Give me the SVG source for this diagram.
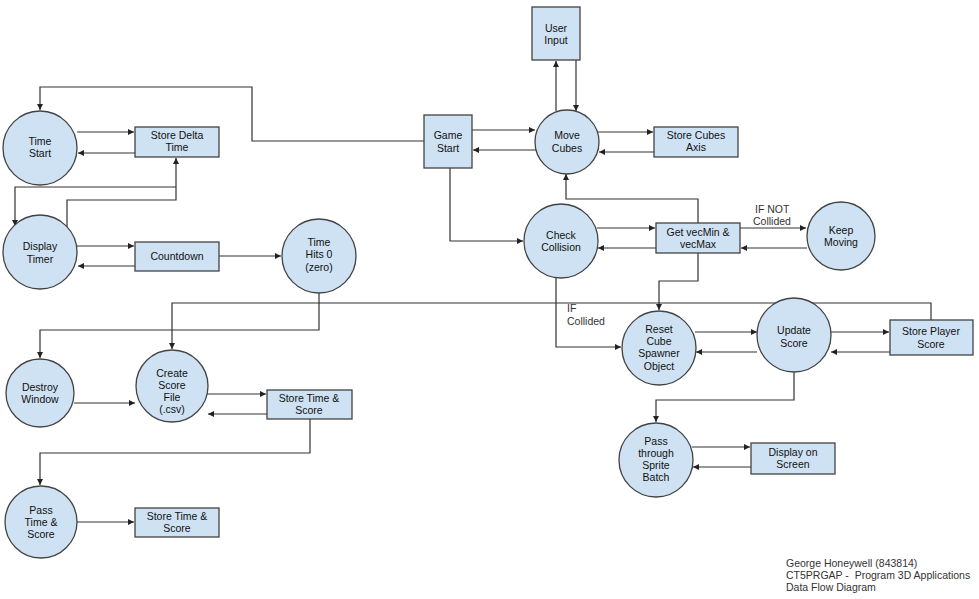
<svg xmlns="http://www.w3.org/2000/svg" width="979" height="599" viewBox="0 0 979 599">
<style>
.n{fill:#cfe2f3;stroke:#434343;stroke-width:1.3}
text{font-family:"Liberation Sans",Arial,sans-serif;font-size:10.5px;fill:#111;text-anchor:middle}
.c path{fill:none;stroke:#333;stroke-width:1.2}
.l{text-anchor:start;fill:#333}
</style>
<defs><marker id="a" viewBox="0 0 6 6" refX="6" refY="3" markerWidth="5" markerHeight="5" orient="auto"><path d="M0,0L6,3L0,6z" fill="#222"/></marker></defs>
<rect width="979" height="599" fill="#fff"/>
<g class="c">
<path d="M424,141H252V87H40V110" marker-end="url(#a)"/>
<path d="M77,132H134" marker-end="url(#a)"/>
<path d="M135,153H78" marker-end="url(#a)"/>
<path d="M176,187H15V226" marker-end="url(#a)"/>
<path d="M67,227V200H176V158" marker-end="url(#a)"/>
<path d="M77,246H134" marker-end="url(#a)"/>
<path d="M135,266H78" marker-end="url(#a)"/>
<path d="M219,256H281" marker-end="url(#a)"/>
<path d="M319,293V330H40V358" marker-end="url(#a)"/>
<path d="M931,320V303H172V349" marker-end="url(#a)"/>
<path d="M450,168V241H523" marker-end="url(#a)"/>
<path d="M472,130H535" marker-end="url(#a)"/>
<path d="M536,150H473" marker-end="url(#a)"/>
<path d="M556,111V61" marker-end="url(#a)"/>
<path d="M576,60V111" marker-end="url(#a)"/>
<path d="M598,132H653" marker-end="url(#a)"/>
<path d="M654,152H599" marker-end="url(#a)"/>
<path d="M698,223V199H566V174" marker-end="url(#a)"/>
<path d="M597,228H655" marker-end="url(#a)"/>
<path d="M656,248H598" marker-end="url(#a)"/>
<path d="M740,228H806" marker-end="url(#a)"/>
<path d="M807,248H741" marker-end="url(#a)"/>
<path d="M698,253V281H659V310" marker-end="url(#a)"/>
<path d="M556,278V347H621" marker-end="url(#a)"/>
<path d="M695,332H757" marker-end="url(#a)"/>
<path d="M757,352H696" marker-end="url(#a)"/>
<path d="M830,332H889" marker-end="url(#a)"/>
<path d="M890,352H831" marker-end="url(#a)"/>
<path d="M794,372V400H656V422" marker-end="url(#a)"/>
<path d="M692,447H750" marker-end="url(#a)"/>
<path d="M751,467H693" marker-end="url(#a)"/>
<path d="M74,403H135" marker-end="url(#a)"/>
<path d="M207,394H266" marker-end="url(#a)"/>
<path d="M267,414H208" marker-end="url(#a)"/>
<path d="M310,418V453H40V485" marker-end="url(#a)"/>
<path d="M77,522H134" marker-end="url(#a)"/>
</g>
<g id="timeStart"><circle class="n" cx="40" cy="148" r="37"/><text x="40" y="145">Time</text><text x="40" y="157">Start</text></g>
<g id="storeDelta"><rect class="n" x="135" y="127" width="84" height="30"/><text x="177" y="139">Store Delta</text><text x="177" y="151">Time</text></g>
<g id="displayTimer"><circle class="n" cx="40" cy="252" r="37"/><text x="40" y="250">Display</text><text x="40" y="263">Timer</text></g>
<g id="countdown"><rect class="n" x="135" y="242" width="84" height="29"/><text x="177" y="260">Countdown</text></g>
<g id="timeHits"><circle class="n" cx="319" cy="256" r="37"/><text x="319" y="246">Time</text><text x="319" y="258">Hits 0</text><text x="319" y="271">(zero)</text></g>
<g id="gameStart"><rect class="n" x="424" y="115" width="48" height="53"/><text x="448" y="139">Game</text><text x="448" y="152">Start</text></g>
<g id="userInput"><rect class="n" x="532" y="7" width="48" height="53"/><text x="556" y="32">User</text><text x="556" y="44">Input</text></g>
<g id="moveCubes"><circle class="n" cx="567" cy="142" r="32"/><text x="567" y="139">Move</text><text x="567" y="152">Cubes</text></g>
<g id="storeCubes"><rect class="n" x="654" y="127" width="84" height="30"/><text x="696" y="139">Store Cubes</text><text x="696" y="151">Axis</text></g>
<g id="checkCollision"><circle class="n" cx="561" cy="241" r="37"/><text x="561" y="239">Check</text><text x="561" y="251">Collision</text></g>
<g id="getVec"><rect class="n" x="656" y="223" width="84" height="30"/><text x="698" y="236">Get vecMin &amp;</text><text x="698" y="248">vecMax</text></g>
<g id="keepMoving"><circle class="n" cx="841" cy="236" r="34"/><text x="841" y="234">Keep</text><text x="841" y="246">Moving</text></g>
<text class="l" x="755" y="213">IF NOT</text><text class="l" x="753" y="225">Collided</text>
<text class="l" x="567" y="312">IF</text><text class="l" x="567" y="325">Collided</text>
<g id="resetCube"><circle class="n" cx="659" cy="348" r="37"/><text x="659" y="333">Reset</text><text x="659" y="345">Cube</text><text x="659" y="357">Spawner</text><text x="659" y="370">Object</text></g>
<g id="updateScore"><circle class="n" cx="794" cy="335" r="37"/><text x="794" y="340" dy="-6">Update</text><text x="794" y="347">Score</text></g>
<g id="storePlayer"><rect class="n" x="890" y="320" width="83" height="35"/><text x="931" y="335">Store Player</text><text x="931" y="348">Score</text></g>
<g id="passSprite"><circle class="n" cx="656" cy="460" r="37"/><text x="656" y="445">Pass</text><text x="656" y="457">through</text><text x="656" y="469">Sprite</text><text x="656" y="481">Batch</text></g>
<g id="displayScreen"><rect class="n" x="751" y="443" width="84" height="31"/><text x="793" y="456">Display on</text><text x="793" y="468">Screen</text></g>
<g id="destroyWindow"><circle class="n" cx="40" cy="393" r="34"/><text x="40" y="391">Destroy</text><text x="40" y="403">Window</text></g>
<g id="createScore"><circle class="n" cx="172" cy="386" r="36"/><text x="172" y="377">Create</text><text x="172" y="389">Score</text><text x="172" y="401">File</text><text x="172" y="413">(.csv)</text></g>
<g id="storeTime1"><rect class="n" x="267" y="390" width="85" height="29"/><text x="309" y="402">Store Time &amp;</text><text x="309" y="414">Score</text></g>
<g id="passTime"><circle class="n" cx="41" cy="522" r="36"/><text x="41" y="514">Pass</text><text x="41" y="526">Time &amp;</text><text x="41" y="538">Score</text></g>
<g id="storeTime2"><rect class="n" x="135" y="508" width="84" height="29"/><text x="177" y="520">Store Time &amp;</text><text x="177" y="532">Score</text></g>
<g id="footer"><text class="l" x="786" y="567">George Honeywell (843814)</text><text class="l" x="786" y="579">CT5PRGAP - &#160;Program 3D Applications</text><text class="l" x="786" y="591">Data Flow Diagram</text></g>
</svg>
